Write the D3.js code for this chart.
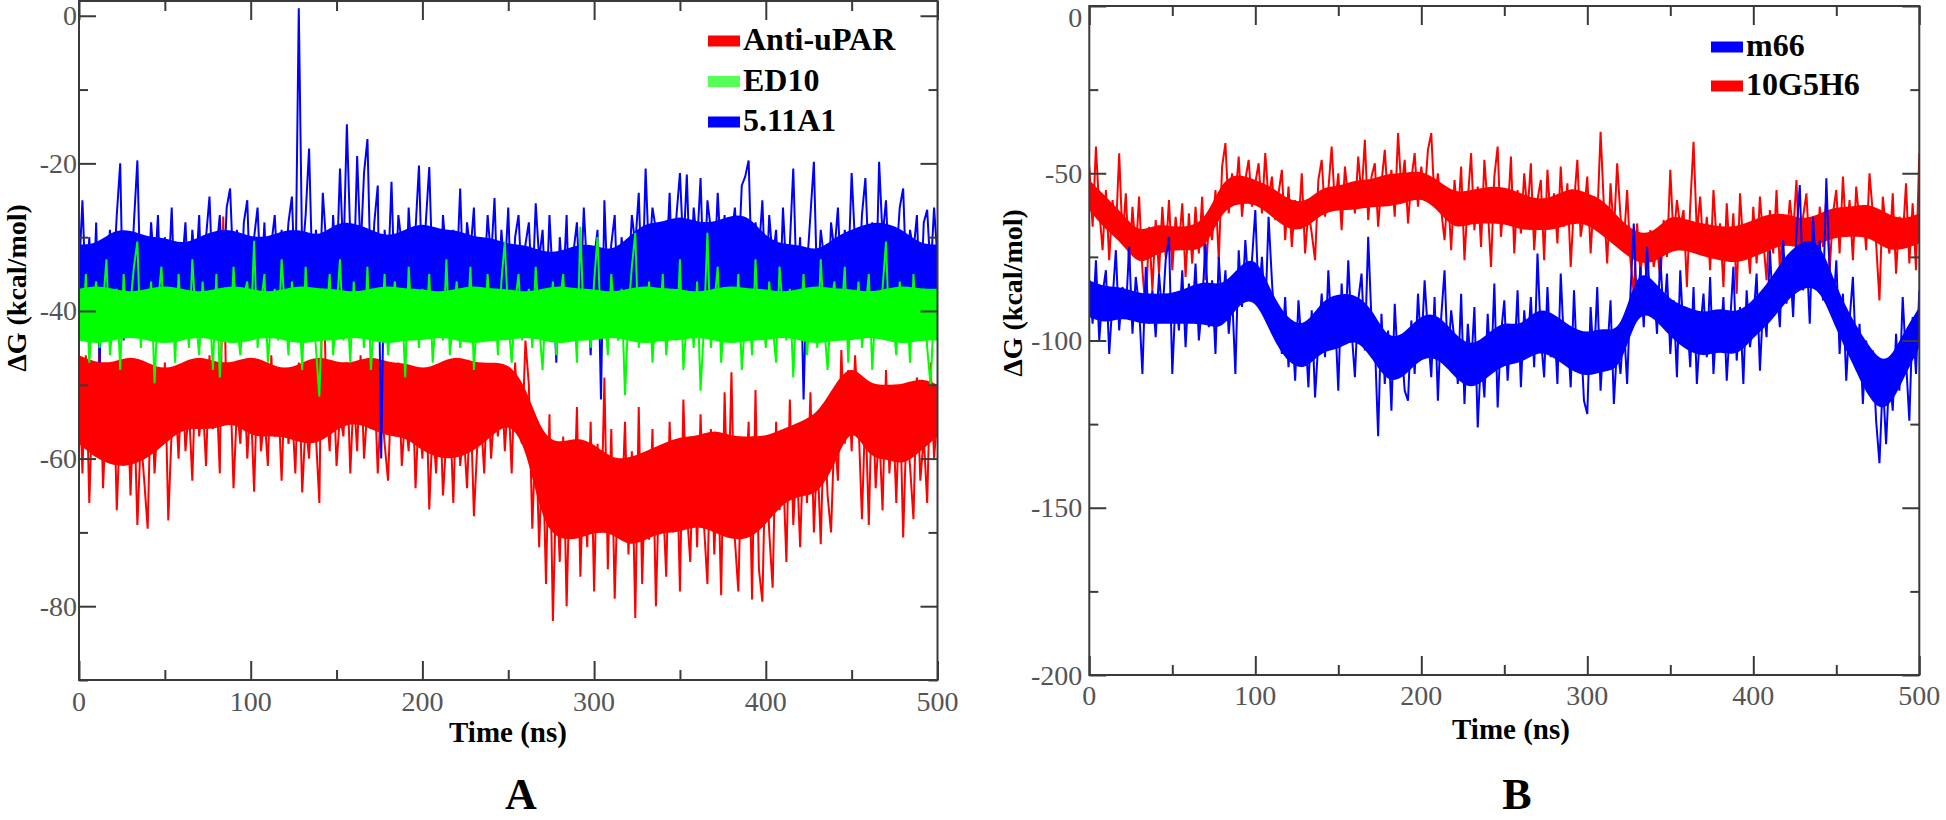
<!DOCTYPE html>
<html><head><meta charset="utf-8">
<script src="https://cdn.jsdelivr.net/npm/d3@7"></script>
<style>body{margin:0;background:#fff}svg{display:block}</style>
</head><body>
<svg id="c" width="1946" height="820"></svg>
<script>
// ---- data ----
// traces: one value every 2 ns; dense cores of the traces: upper/lower edge every 10 ns
const timeStep = 2;
const coreStep = 10;
const timeMax = 500;
const xMajorTicks = [0, 100, 200, 300, 400, 500];
const xMinorTicks = [50, 150, 250, 350, 450];
const aYMajorTicks = [0, -20, -40, -60, -80];
const aYMinorTicks = [-10, -30, -50, -70, -90];
const bYMajorTicks = [0, -50, -100, -150, -200];
const bYMinorTicks = [-25, -75, -125, -175];
const aNames = ["Anti-uPAR", "ED10", "5.11A1"];
const bNames = ["m66", "10G5H6"];

const antiUPAR = [
-48,-62,-46,-66,-51,-58,-44,-64,-53,-60,
-47,-67,-55,-61,-49,-65,-52,-69,-57,-63,
-69.5,-50,-62,-54,-58,-47,-68.4,-56,-51,-60,
-48,-59,-53,-63,-47,-57,-52,-61,-46,-56,
-50,-62,-27.2,-55,-49,-64,-53,-58,-47,-60,
-52,-64.5,-48,-59,-54,-61,-46,-57,-51,-63,
-49,-58,-53,-62,-47,-64.6,-55,-60,-50,-57,
-66,-30.2,-52,-59,-48,-61,-54,-57,-47,-62,
-51,-59,-46,-60,-53,-56,-49,-62,-52,-58,
-63,-50,-57,-47,-61,-54,-59,-48,-64,-53,
-60,-49,-66.9,-55,-62,-51,-65,-57,-53,-66,
-50,-61,-56,-64,-52,-67.8,-58,-54,-62,-49,
-60,-53,-57,-48,-59,-51,-62,-47,-56,-58,
-44,-50,-69.5,-56,-72,-58,-77,-54,-82,-63,
-74,-57,-80,-61,-69,-53,-76,-60,-72,-55,
-78,-58,-70,-49,-75,-56,-79,-62,-68,-55,
-73,-59,-81.6,-53,-77,-60,-71,-56,-80,-62,
-65,-76,-55,-70,-58,-78,-52,-67,-74,-57,
-72,-54,-69,-77,-56,-73,-60,-78.5,-51,-68,
-48.3,-71,-78,-59,-66,-55,-79.1,-50.7,-75,-79.4,
-58,-70,-77.5,-55,-67,-61,-74,-52,-69,-60,
-72,-57,-66,-51,-70,-59,-71.6,-54,-65,-70,
-56,-63,-45.3,-58,-48,-59,-46,-55,-68.2,-53,
-69,-50,-64,-56,-67,-48,-62,-53,-66,-51,
-70.7,-55,-61,-68.2,-49,-63,-57,-66,-47,-60,-54
];
const antiUPARCoreHi = [
-46,-47,-47,-46,-47,-48,-47,-46,-47,-47,-46,-47,-48,-47,-46,-47,-47,-46,-47,-47,-48,-47,-46,-47,-47,-47,
-50,-57,-58,-57,-58,-60,-60,-59,-58,-57,-57,-56,-57,-57,-57,-56,-55,-54,-50,-47,-50,-50,-50,-49,-50
];
const antiUPARCoreLo = [
-58,-60,-61,-61,-60,-58,-56,-56,-56,-55,-57,-57,-57,-58,-58,-56,-55,-56,-57,-57,-59,-60,-60,-59,-57,-55,
-58,-69,-71,-71,-70,-70,-72,-71,-70,-70,-69,-70,-71,-71,-69,-66,-65,-65,-61,-55,-60,-60,-61,-59,-57
];

const ed10 = [
-38,-44,-35,-47,-40,-36,-45,-39,-33,-46,
-41,-37,-48,-35,-43,-39,-34,-30.6,-45,-38,
-42,-36,-49.8,-39,-34,-44,-40,-37,-47,-35,
-43,-38,-45,-33,-41,-46,-36,-42,-39,-48,
-35,-49,-40,-37,-44,-34,-42,-46,-38,-36,
-43,-30.5,-45,-39,-35,-47,-41,-37,-44,-33,
-40,-46,-36,-42,-38,-48,-34,-43,-39,-45,
-51.6,-37,-41,-35,-46,-40,-33,-44,-38,-47,
-36,-42,-39,-45,-34,-48,-41,-37,-43,-35,
-46,-40,-36,-44,-38,-49,-34,-42,-39,-45,
-37,-43,-35,-47,-40,-38,-44,-33,-46,-41,
-36,-45,-39,-42,-34,-48,-40,-37,-44,-35,
-43,-38,-46,-36,-30.6,-41,-47,-39,-35,-44,
-40,-37,-45,-34,-42,-48,-38,-43,-36,-46,
-39,-35,-44,-41,-37,-47,-28.6,-42,-38,-45,
-36,-30,-43,-39,-46,-35,-41,-44,-37,-51.4,
-40,-34,-29.4,-45,-38,-42,-36,-47,-39,-43,
-35,-46,-40,-37,-44,-33,-48,-41,-38,-45,
-36,-50.8,-42,-29.4,-45,-39,-34,-47,-40,-43,
-37,-44,-35,-48,-41,-38,-46,-33,-43,-39,
-45,-36,-42,-47,-34,-40,-44,-37,-49,-38,
-43,-35,-46,-40,-37,-45,-33,-42,-48,-39,
-36,-44,-41,-34,-47,-38,-43,-36,-45,-40,
-35,-48,-39,-42,-37,-30.6,-44,-41,-46,-36,
-42,-38,-47,-35,-43,-40,-37,-45,-50.2,-39,-44
];
const ed10CoreHi = [
-37,-36.5,-37,-37.5,-37,-36.5,-37,-37.5,-37,-36.5,-37,-37.5,-37,-36.5,-37,-37,-37.5,-37,-36.5,-37,-37,
-37.5,-37,-36.5,-37,-37,-37.5,-37,-36.5,-37,-37,-37.5,-37,-36.5,-37,-37,-37.5,-37,-36.5,-37,-37,
-37.5,-37,-36.5,-37,-37,-37.5,-37,-36.5,-37,-37
];
const ed10CoreLo = [
-44,-44.5,-44,-43.5,-44,-44.5,-44,-43.5,-44,-44.5,-44,-43.5,-44,-44.5,-44,-44,-43.5,-44,-44.5,-44,-44,
-43.5,-44,-44.5,-44,-44,-43.5,-44,-44.5,-44,-44,-43.5,-44,-44.5,-44,-44,-43.5,-44,-44.5,-44,-44,
-43.5,-44,-44.5,-44,-44,-43.5,-44,-44.5,-44,-44
];

const a511A1 = [
-35,-25,-38,-30,-41,-28,-47,-33,-39,-29,
-36,-27,-20,-44,-31,-37,-28,-19.6,-39,-30,
-38,-28,-35,-27,-41,-30,-36,-26,-40,-31,
-34,-28,-39,-29,-35,-27,-42,-30,-24.5,-37,
-32,-27,-38,-26,-23.4,-35,-29,-40,-28,-25,
-39,-30,-26,-37,-28,-41,-31,-27,-36,-29,
-35,-28,-24.5,-38,1,-33,-27,-18,-36,-29,
-38,-24,-31,-40,-27,-35,-20.7,-33,-14.7,-30,
-36,-19,-32,-21.3,-16.7,-37,-28,-23,-60,-29,
-35,-22.5,-38,-27,-31,-41,-26,-34,-29,-20.3,
-37,-28,-20.5,-36,-30,-39,-27,-33,-42,-29,
-35,-23.4,-38,-28,-32,-26,-40,-30,-36,-27,
-33,-24.7,-39,-29,-35,-26,-41,-30,-27,-37,
-31,-28,-38,-25.4,-33,-29,-40,-27,-36,-47,
-30,-37,-27,-44,-32,-28,-39,-26,-35,-46,
-33,-29,-52,-25,-38,-31,-27,-40,-30,-35,
-36,-27,-31,-24,-38,-20.7,-33,-26,-29,-37,
-28,-34,-24,-39,-27,-21.3,-32,-21.5,-36,-26,
-31,-22,-37,-25,-29,-35,-24,-33,-27,-38,
-30,-26,-34,-23,-21.8,-19.6,-36,-28,-32,-25,
-38,-27,-33,-29,-40,-26,-35,-31,-20.7,-37,
-30,-52,-34,-27,-19.8,-38,-29,-33,-41,-28,
-32,-26,-37,-29,-35,-21.3,-31,-38,-27,-22,
-34,-28,-39,-19.8,-30,-25,-36,-29,-33,-26,
-23.4,-37,-29,-32,-27,-40,-28,-26.3,-35,-26,-33
];
const a511A1CoreHi = [
-31,-31,-29,-29,-30,-30,-31,-30,-29,-29,-30,-30,-29,-29,-30,-28,-28,-29,-30,-29,-28,-29,-29,-30,-30,-31,
-31,-32,-32,-31,-31,-32,-30,-28,-28,-27,-28,-28,-27,-27,-30,-31,-31,-32,-30,-29,-28,-28,-29,-31,-31
];
const a511A1CoreLo = [
-39,-38,-39,-38,-38,-39,-39,-38,-38,-39,-38,-39,-38,-38,-39,-38,-38,-39,-39,-38,-38,-39,-38,-38,-39,-39,
-40,-39,-40,-40,-39,-39,-38,-37,-37,-37,-38,-38,-37,-37,-38,-39,-39,-40,-38,-38,-37,-38,-38,-39,-39
];

const m66 = [
-82,-95,-76,-100,-86,-79,-104,-88,-73,-97,
-84,-92,-72,-98,-81,-90,-110,-78,-95,-85,
-99,-80,-93,-76,-69,-110,-87,-97,-79,-102,
-83,-94,-77,-100,-89,-71,-96,-82,-104,-75,
-92,-79,-98,-86,-110,-73,-90,-70,-85,-76,
-61,-88,-75,-93,-63,-82,-99,-90,-104,-87,
-108,-94,-112,-88,-102,-96,-114,-91,-117,-100,
-86,-105,-79,-98,-92,-115,-83,-101,-76,-97,
-111,-88,-80,-103,-69,-94,-100,-128.6,-92,-113,
-97,-121,-89,-108,-101,-115,-118,-94,-110,-86,
-103,-82,-98,-111,-87,-118,-93,-79,-106,-91,
-100,-113,-86,-119,-95,-108,-90,-126,-104,-117,
-92,-110,-83,-120,-98,-88,-112,-96,-106,-85,
-114,-91,-103,-87,-108,-74,-99,-111,-84,-105,
-93,-113,-80,-102,-96,-114,-85,-109,-98,-118,
-122,-90,-107,-84,-115,-97,-104,-88,-119,-101,
-110,-95,-113,-86,-65,-92,-78,-96,-72,-89,
-83,-98,-75,-94,-80,-104,-88,-111,-79,-99,
-92,-108,-84,-113,-97,-86,-105,-81,-110,-93,
-101,-87,-112,-95,-78,-106,-90,-113,-85,-102,
-94,-80,-109,-88,-99,-73,-92,-82,-96,-70,
-89,-76,-93,-68,-53.5,-85,-72,-95,-63,-81,
-70,-88,-51.5,-79,-92,-76,-104,-86,-112,-94,
-81,-107,-95,-119,-100,-115,-103,-124,-136.7,-112,
-131,-109,-121,-98,-115,-87,-106,-124,-93,-110,-85
];
const m66CoreHi = [
-82,-84,-84,-86,-86,-86,-84,-82,-84,-78,-74,-86,-94,-96,-88,-86,-86,-90,-100,-98,-92,-92,-98,-102,-98,-94,
-96,-90,-92,-96,-98,-96,-98,-78,-82,-88,-90,-92,-90,-92,-88,-82,-74,-70,-70,-84,-94,-102,-108,-98,-90
];
const m66CoreLo = [
-93,-95,-93,-95,-95,-95,-95,-95,-97,-89,-87,-99,-107,-109,-103,-103,-99,-105,-113,-111,-105,-105,-111,-115,-111,-107,
-107,-103,-105,-109,-111,-109,-109,-91,-93,-99,-103,-105,-103,-105,-99,-95,-88,-84,-84,-97,-107,-118,-122,-112,-102
];

const g10G5H6 = [
-48,-66,-42,-61,-73,-55,-76,-58,-68,-44,
-70,-56,-78,-60,-74,-57,-79,-92,-66,-85,
-64,-80,-60,-75,-58,-79,-63,-72,-59,-81,
-62,-77,-60,-74,-57,-82,-65,-70,-55,-76,
-48,-41,-62,-50,-58,-45,-63,-52,-46,-60,
-53,-47,-62,-44,-58,-51,-64,-56,-49,-70,
-54,-72,-58,-66,-50,-74,-61,-68,-76,-52,
-46,-63,-55,-42,-60,-50,-67,-48,-58,-53,
-62,-45,-57,-40,-64,-51,-47,-66,-53,-43,
-59,-49,-63,-38,-55,-46,-65,-52,-44,-60,
-48,-57,-43,-38,-59,-50,-61,-70,-55,-73,
-52,-64,-48,-76,-58,-44,-67,-54,-72,-46,
-60,-78,-51,-42,-69,-56,-63,-45,-74,-55,
-68,-50,-62,-47,-73,-58,-52,-76,-49,-65,
-56,-71,-48,-66,-53,-78,-59,-46,-69,-62,
-51,-74,-57,-64,-37.6,-60,-77,-53,-68,-47,
-63,-71,-55,-76,-86,-65,-80,-70,-84,-67,
-78,-72,-82,-64,-75,-49,-70,-58,-66,-61,
-84,-60,-40.6,-68,-57,-74,-63,-79,-55,-71,
-65,-84,-59,-76,-62,-86,-56,-72,-68,-80,
-60,-77,-57,-70,-82,-61,-74,-55,-79,-64,
-71,-58,-68,-52,-78,-63,-56,-75,-66,-81,
-60,-72,-57,-79,-62,-55,-74,-51,-69,-58,
-76,-54,-65,-60,-73,-50,-62,-71,-88,-57,
-67,-74,-56,-80,-63,-70,-53,-77,-59,-79,-44
];
const g10G5H6CoreHi = [
-52,-57,-62,-68,-65,-66,-66,-64,-52,-50,-52,-54,-58,-59,-54,-54,-52,-52,-50,-50,-49,-52,-56,-55,-54,-54,
-56,-58,-57,-54,-56,-58,-64,-68,-68,-62,-64,-65,-66,-66,-64,-62,-62,-64,-62,-60,-60,-59,-62,-64,-62
];
const g10G5H6CoreLo = [
-61,-67,-71,-78,-74,-73,-73,-73,-61,-59,-59,-63,-67,-67,-62,-61,-61,-60,-60,-59,-57,-61,-67,-65,-65,-65,
-67,-67,-67,-65,-65,-69,-73,-77,-77,-73,-73,-75,-76,-77,-75,-73,-71,-73,-71,-69,-69,-69,-73,-73,-71
];

// ---- drawing ----
const svg = d3.select("#c");
const FONT = "'Liberation Serif','Times New Roman',serif";
const AXIS = "#3a3a3a";
const LABEL = "#555";

function panel(cfg) {
  const g = svg.append("g");
  const x = d3.scaleLinear().domain([0, timeMax]).range([cfg.x0, cfg.x1]);
  const y = d3.scaleLinear().domain(cfg.yDomain).range([cfg.y1, cfg.y0]);
  const clipId = "clip" + cfg.id;
  svg.append("clipPath").attr("id", clipId).append("rect")
    .attr("x", cfg.x0).attr("y", cfg.y0)
    .attr("width", cfg.x1 - cfg.x0).attr("height", cfg.y1 - cfg.y0);

  const line = d3.line().x((d, i) => x(i * timeStep)).y(d => y(d));
  const area = d3.area().curve(d3.curveBasis)
    .x((d, i) => x(i * coreStep)).y0(d => y(d[0])).y1(d => y(d[1]));
  cfg.draw.forEach(s => {
    const core = s.lo.map((v, i) => [v, s.hi[i]]);
    g.append("path").datum(core)
      .attr("d", area).attr("fill", s.color)
      .attr("clip-path", `url(#${clipId})`);
    g.append("path").datum(s.values)
      .attr("d", line).attr("fill", "none")
      .attr("stroke", s.color).attr("stroke-width", 2)
      .attr("stroke-linejoin", "bevel")
      .attr("clip-path", `url(#${clipId})`);
  });

  // frame
  g.append("rect").attr("x", cfg.x0).attr("y", cfg.y0)
    .attr("width", cfg.x1 - cfg.x0).attr("height", cfg.y1 - cfg.y0)
    .attr("fill", "none").attr("stroke", AXIS).attr("stroke-width", 2);

  // inward ticks via d3 axes
  const addAxis = (axis, tx, ty) => {
    const a = g.append("g").attr("transform", `translate(${tx},${ty})`).call(axis);
    a.select(".domain").remove();
    a.selectAll("text").remove();
    a.selectAll("line").attr("stroke", AXIS).attr("stroke-width", 2);
  };
  addAxis(d3.axisTop(x).tickValues(xMajorTicks).tickSize(19), 0, cfg.y1);
  addAxis(d3.axisTop(x).tickValues(xMinorTicks).tickSize(10), 0, cfg.y1);
  addAxis(d3.axisBottom(x).tickValues(xMajorTicks).tickSize(19), 0, cfg.y0);
  addAxis(d3.axisBottom(x).tickValues(xMinorTicks).tickSize(10), 0, cfg.y0);
  addAxis(d3.axisRight(y).tickValues(cfg.yMajor).tickSize(17), cfg.x0, 0);
  addAxis(d3.axisRight(y).tickValues(cfg.yMinor).tickSize(9), cfg.x0, 0);
  addAxis(d3.axisLeft(y).tickValues(cfg.yMajor).tickSize(17), cfg.x1, 0);
  addAxis(d3.axisLeft(y).tickValues(cfg.yMinor).tickSize(9), cfg.x1, 0);

  // tick labels
  g.selectAll(".xl").data(xMajorTicks).enter().append("text")
    .attr("x", d => x(d)).attr("y", cfg.xLabelBase)
    .attr("text-anchor", "middle").attr("font-family", FONT)
    .attr("font-size", 28).attr("fill", LABEL).text(d => d);
  g.selectAll(".yl").data(cfg.yMajor).enter().append("text")
    .attr("x", cfg.x0 - cfg.yLabelGap)
    .attr("y", d => Math.max(y(d), cfg.y0 + 11))
    .attr("dy", "0.34em")
    .attr("text-anchor", "end").attr("font-family", FONT)
    .attr("font-size", 28).attr("fill", LABEL).text(d => d);

  // axis titles
  g.append("text").attr("x", cfg.xTitleX).attr("y", cfg.xTitleY)
    .attr("text-anchor", "middle").attr("font-family", FONT)
    .attr("font-weight", "bold").attr("font-size", 29).attr("fill", "#000")
    .text("Time (ns)");
  g.append("text")
    .attr("transform", `translate(${cfg.yTitleX},${cfg.yTitleY}) rotate(-90)`)
    .attr("text-anchor", "middle").attr("font-family", FONT)
    .attr("font-weight", "bold").attr("font-size", 28).attr("fill", "#000")
    .text("\u0394G (kcal/mol)");

  // legend
  cfg.legend.forEach((l, i) => {
    const cy = cfg.legY0 + i * cfg.legDy;
    g.append("rect").attr("x", cfg.legX).attr("y", cy - 5.5)
      .attr("width", 32).attr("height", 11).attr("fill", l.swatch);
    g.append("text").attr("x", cfg.legX + 35).attr("y", cy + 9)
      .attr("font-family", FONT).attr("font-weight", "bold")
      .attr("font-size", 32).attr("fill", "#000").text(l.name);
  });

  // panel letter
  g.append("text").attr("x", cfg.letterX).attr("y", 809)
    .attr("text-anchor", "middle").attr("font-family", FONT)
    .attr("font-weight", "bold").attr("font-size", 44).attr("fill", "#000")
    .text(cfg.letter);
}

panel({
  id: "A", x0: 79, x1: 937.5, y0: 1, y1: 680, yDomain: [-90, 2],
  yMajor: aYMajorTicks, yMinor: aYMinorTicks,
  draw: [
    { values: antiUPAR, hi: antiUPARCoreHi, lo: antiUPARCoreLo, color: "#ff0000" },
    { values: a511A1, hi: a511A1CoreHi, lo: a511A1CoreLo, color: "#0000ff" },
    { values: ed10, hi: ed10CoreHi, lo: ed10CoreLo, color: "#00ff00" }
  ],
  xLabelBase: 711, yLabelGap: 2,
  xTitleX: 508, xTitleY: 742, yTitleX: 26, yTitleY: 288,
  legX: 708, legY0: 41, legDy: 40.5,
  legend: [
    { name: aNames[0], swatch: "#ff0000" },
    { name: aNames[1], swatch: "#55ff55" },
    { name: aNames[2], swatch: "#0000ff" }
  ],
  letterX: 521, letter: "A"
});

panel({
  id: "B", x0: 1089.3, x1: 1919.3, y0: 6, y1: 675, yDomain: [-200, 0],
  yMajor: bYMajorTicks, yMinor: bYMinorTicks,
  draw: [
    { values: g10G5H6, hi: g10G5H6CoreHi, lo: g10G5H6CoreLo, color: "#ff0000" },
    { values: m66, hi: m66CoreHi, lo: m66CoreLo, color: "#0000ff" }
  ],
  xLabelBase: 705, yLabelGap: 7,
  xTitleX: 1511, xTitleY: 739, yTitleX: 1022, yTitleY: 293,
  legX: 1711, legY0: 47, legDy: 39,
  legend: [
    { name: bNames[0], swatch: "#0000ff" },
    { name: bNames[1], swatch: "#ff0000" }
  ],
  letterX: 1517, letter: "B"
});
</script>
</body></html>
